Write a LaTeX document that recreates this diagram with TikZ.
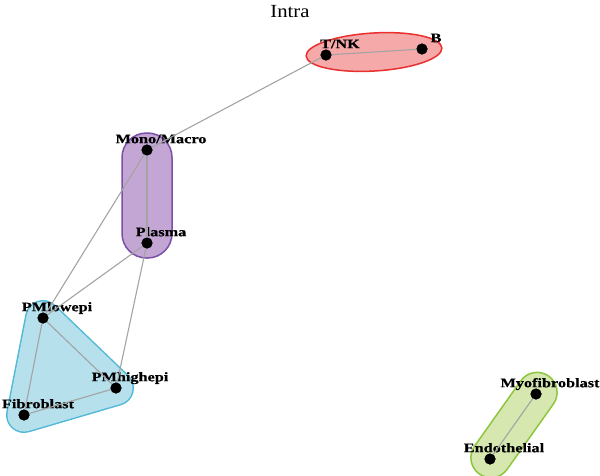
\documentclass[tikz,border=0pt]{standalone}
\usepackage{fontspec}
\setmainfont{Liberation Serif}
\newfontfamily\lblfont[FakeStretch=1.25,FakeBold=0.6]{Liberation Serif}
\newfontfamily\ttlfont[FakeStretch=1.12]{Liberation Serif}
\usepackage{tikz}

\definecolor{redfill}{HTML}{F6A9A9}
\definecolor{redline}{HTML}{E8302E}
\definecolor{purfill}{HTML}{C4A6D4}
\definecolor{purline}{HTML}{7A50A8}
\definecolor{bluefill}{HTML}{B5E0EC}
\definecolor{blueline}{HTML}{52BAD6}
\definecolor{grnfill}{HTML}{D6E7B0}
\definecolor{grnline}{HTML}{8DC63F}
\definecolor{edgegray}{HTML}{A3A3A3}

\begin{document}
\begin{tikzpicture}[x=1pt,y=-1pt,semithick,
    cell/.style={circle,fill=black,inner sep=0pt,minimum size=11pt},
    lbl/.style={anchor=base,xshift=14pt,label distance=1pt,font=\lblfont\bfseries\fontsize{13}{13}\selectfont,inner sep=0pt},
    hull/.style={line width=1.5pt},
    link/.style={draw=edgegray,line width=1.1pt}]
			\useasboundingbox (0,0) rectangle (600,475);
			\node[font=\ttlfont\fontsize{18.5}{18.5}\selectfont,anchor=base] (title) at (290,17) {Intra};
			% groups
			\draw[hull,draw=redline,fill=redfill,rotate around={3.4:(374,52)}]
				(374,52) ellipse [x radius=68pt, y radius=19pt];
			\draw[hull,draw=purline,fill=purfill,rounded corners=24.5pt]
				(122,133) rectangle (172,258);
			% blue group: triangle grown by a round stroke
			\draw[line join=round,draw=blueline,line width=36pt] (43,318) -- (116,388) -- (24,415) -- cycle;
			\draw[line join=round,draw=bluefill,fill=bluefill,line width=33pt] (43,318) -- (116,388) -- (24,415) -- cycle;
			\begin{scope}[shift={(514,425)},rotate=54.7]
				\draw[hull,draw=grnline,fill=grnfill,rounded corners=20pt]
					(-60,-20) rectangle (60,20);
			\end{scope}
			% cells
			\node[cell,label={[lbl]above:T/NK}]          (tnk)    at (326,55)  {};
			\node[cell,label={[lbl]above:B}]             (b)      at (422,49)  {};
			\node[cell,label={[lbl]above:Mono/Macro}]    (mono)   at (147,150) {};
			\node[cell,label={[lbl]above:Plasma}]        (plasma) at (147,243) {};
			\node[cell,label={[lbl]above:PMlowepi}]      (pmlow)  at (43,318)  {};
			\node[cell,label={[lbl]above:PMhighepi}]     (pmhigh) at (116,388) {};
			\node[cell,label={[lbl]above:Fibroblast}]    (fib)    at (24,415)  {};
			\node[cell,label={[lbl]above:Myofibroblast}] (myo)    at (536,394) {};
			\node[cell,label={[lbl]above:Endothelial}]   (endo)   at (490,459) {};
			% links
			\foreach \a/\b in {tnk/b, tnk/mono, mono/plasma, mono/pmlow, plasma/pmlow,
			                   plasma/pmhigh, pmlow/pmhigh, pmlow/fib, fib/pmhigh, myo/endo}
				\draw[link] (\a.center) -- (\b.center);
			% dots again on top of the links
			\foreach \c in {tnk,b,mono,plasma,pmlow,pmhigh,fib,myo,endo}
				\fill (\c) circle (5.5pt);
		\end{tikzpicture}
\end{document}
